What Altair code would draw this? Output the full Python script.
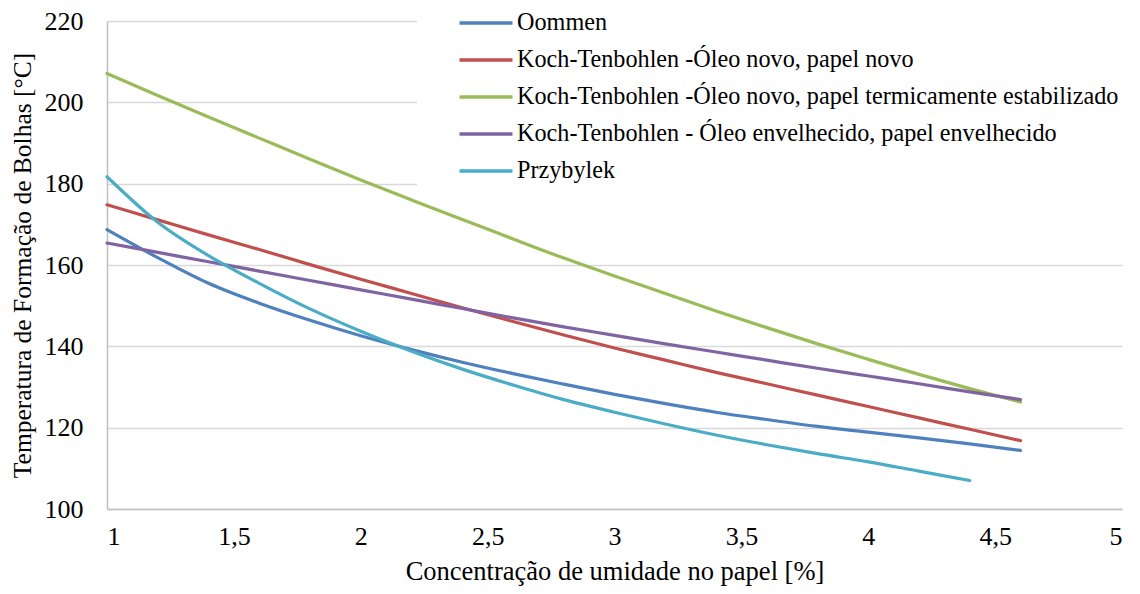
import altair as alt
import pandas as pd

series_names = [
    "Oommen",
    "Koch-Tenbohlen -Óleo novo, papel novo",
    "Koch-Tenbohlen -Óleo novo, papel termicamente estabilizado",
    "Koch-Tenbohlen - Óleo envelhecido, papel envelhecido",
    "Przybylek",
]
colors = ["#4F81BD", "#C0504D", "#9BBB59", "#8064A2", "#4BACC6"]

x_vals = [1.0, 1.2, 1.4, 1.6, 1.8, 2.0, 2.2, 2.4, 2.6, 2.8, 3.0, 3.2, 3.4, 3.6, 3.8, 4.0, 4.2, 4.4, 4.6]

oommen = [168.7, 161.8, 155.5, 150.6, 146.4, 142.6, 139.2, 136.1, 133.3, 130.7, 128.2, 125.9, 123.8, 122.0, 120.3, 118.9, 117.5, 116.0, 114.4]
koch_novo = [174.8, 171.1, 167.4, 163.8, 160.1, 156.5, 153.0, 149.5, 146.1, 142.8, 139.6, 136.6, 133.6, 130.8, 128.0, 125.2, 122.4, 119.6, 116.8]
koch_term = [207.1, 201.7, 196.4, 191.2, 186.0, 180.9, 176.0, 171.2, 166.4, 161.7, 157.3, 153.0, 148.7, 144.6, 140.6, 136.8, 133.1, 129.6, 126.3]
koch_env = [165.4, 163.1, 160.8, 158.5, 156.2, 153.9, 151.6, 149.3, 147.0, 144.8, 142.7, 140.6, 138.6, 136.6, 134.6, 132.7, 130.8, 128.8, 126.9]
przybylek_x = [1.0, 1.2, 1.4, 1.6, 1.8, 2.0, 2.2, 2.4, 2.6, 2.8, 3.0, 3.2, 3.4, 3.6, 3.8, 4.0, 4.2, 4.4]
przybylek = [181.7, 170.5, 162.3, 155.5, 149.2, 143.7, 138.8, 134.4, 130.5, 126.9, 123.8, 120.9, 118.2, 115.8, 113.6, 111.6, 109.3, 107.0]

y_ticks = [100, 120, 140, 160, 180, 200, 220]
x_ticks = [1, 1.5, 2, 2.5, 3, 3.5, 4, 4.5, 5]

rows = []
for name, xs, ys in [
    (series_names[0], x_vals, oommen),
    (series_names[1], x_vals, koch_novo),
    (series_names[2], x_vals, koch_term),
    (series_names[3], x_vals, koch_env),
    (series_names[4], przybylek_x, przybylek),
]:
    for xv, yv in zip(xs, ys):
        rows.append({"serie": name, "x": xv, "y": yv})
df = pd.DataFrame(rows)

FONT = "Liberation Serif"

chart = (
    alt.Chart(df)
    .mark_line(strokeWidth=3.2, interpolate="monotone", strokeCap="round")
    .encode(
        x=alt.X(
            "x:Q",
            scale=alt.Scale(domain=[1, 5], nice=False, zero=False),
            axis=alt.Axis(
                title="Concentração de umidade no papel [%]",
                values=x_ticks,
                format="~g",
                labelExpr="replace(datum.label, '.', ',')",
                labelFont=FONT,
                titleFont=FONT,
                labelFontSize=26,
                titleFontSize=26.5,
                grid=False,
                ticks=False,
                domainColor="#BFBFBF",
                domainWidth=1.5,
                labelPadding=14,
                titlePadding=9,
            ),
        ),
        y=alt.Y(
            "y:Q",
            scale=alt.Scale(domain=[100, 220], nice=False, zero=False),
            axis=alt.Axis(
                title="Temperatura de Formação de Bolhas [°C]",
                values=y_ticks,
                labelFont=FONT,
                titleFont=FONT,
                labelFontSize=26,
                titleFontSize=25.5,
                grid=True,
                gridColor="#D9D9D9",
                gridWidth=1.5,
                ticks=False,
                domainColor="#BFBFBF",
                domainWidth=1.5,
                labelPadding=24,
                titlePadding=9,
            ),
        ),
        color=alt.Color(
            "serie:N",
            sort=series_names,
            scale=alt.Scale(domain=series_names, range=colors),
            legend=alt.Legend(
                title=None,
                orient="none",
                legendX=310,
                legendY=-19,
                fillColor="white",
                padding=6,
                symbolType="M-2,0H2",
                symbolSize=702,
                symbolStrokeWidth=3.5,
                symbolOffset=48,
                labelFontSize=24.2,
                labelFont=FONT,
                labelFontWeight="normal",
                labelColor="black",
                labelLimit=1000,
                labelOffset=16,
                rowPadding=9,
            ),
        ),
    )
    .properties(
        width=1015,
        height=488,
        autosize=alt.AutoSizeParams(type="none"),
        padding={"left": 99, "top": 13, "right": 10, "bottom": 77},
    )
    .configure(font=FONT)
    .configure_view(stroke=None)
    .configure_legend(labelFont=FONT)
    .configure_axis(
        labelFont=FONT,
        titleFont=FONT,
        labelFontWeight="normal",
        titleFontWeight="normal",
        labelColor="black",
        titleColor="black",
    )
)

chart.save("out.html", embed_options={"renderer": "svg", "actions": False})
